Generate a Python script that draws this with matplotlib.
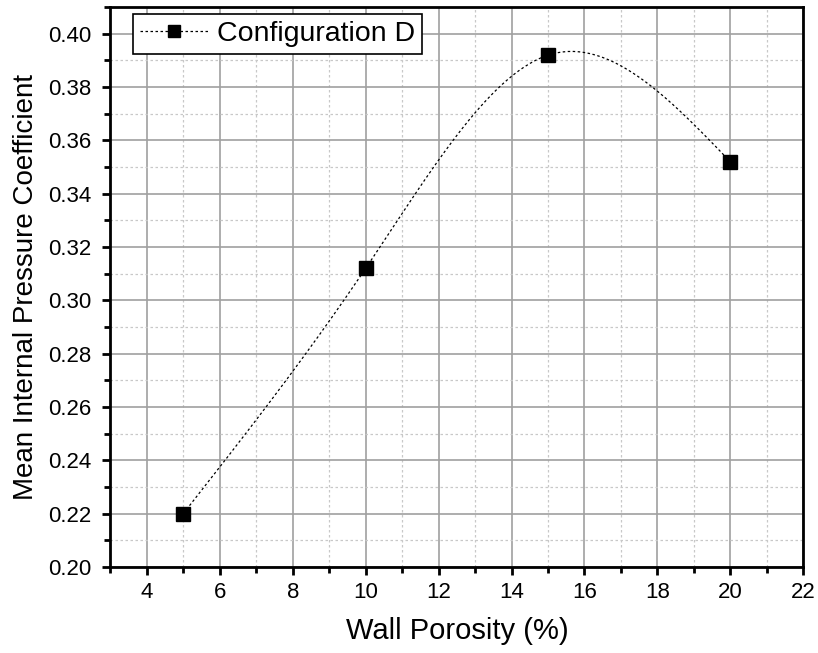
import numpy as np
import matplotlib
matplotlib.use('Agg')
import matplotlib.pyplot as plt
from matplotlib.ticker import MultipleLocator

plt.rcParams['font.family'] = ['Liberation Sans', 'DejaVu Sans']

porosity = [5, 10, 15, 20]
cp_mean = [0.220, 0.312, 0.392, 0.352]
series_label = 'Configuration D'


def natural_spline(x, y, n=200):
    # plain natural cubic spline, like Origin's "spline" connect
    x = np.asarray(x, float)
    y = np.asarray(y, float)
    k = len(x)
    h = np.diff(x)
    A = np.zeros((k, k))
    b = np.zeros(k)
    A[0, 0] = A[-1, -1] = 1
    for i in range(1, k - 1):
        A[i, i - 1] = h[i - 1]
        A[i, i] = 2 * (h[i - 1] + h[i])
        A[i, i + 1] = h[i]
        b[i] = 3 * ((y[i + 1] - y[i]) / h[i] - (y[i] - y[i - 1]) / h[i - 1])
    c = np.linalg.solve(A, b)
    xs = np.linspace(x[0], x[-1], n)
    ys = np.empty_like(xs)
    for j, xv in enumerate(xs):
        i = min(np.searchsorted(x, xv, side='right') - 1, k - 2)
        d = (c[i + 1] - c[i]) / (3 * h[i])
        bb = (y[i + 1] - y[i]) / h[i] - h[i] * (2 * c[i] + c[i + 1]) / 3
        t = xv - x[i]
        ys[j] = y[i] + bb * t + c[i] * t ** 2 + d * t ** 3
    return xs, ys


fig = plt.figure(figsize=(8.18, 6.53), dpi=100)
ax = fig.add_axes([0.135, 0.132, 0.847, 0.857])

xs, ys = natural_spline(porosity, cp_mean)
ax.plot(xs, ys, color='black', linestyle=(0, (2, 2)), linewidth=0.9, zorder=3)
ax.plot(porosity, cp_mean, linestyle='none', marker='s', markersize=10,
        color='black', zorder=4)
# legend proxy
ax.plot([], [], color='black', linestyle=(0, (2, 2)), linewidth=0.9,
        marker='s', markersize=8, label=series_label)

ax.set_xlim(3, 22)
ax.set_ylim(0.20, 0.41)
ax.xaxis.set_major_locator(MultipleLocator(2))
ax.xaxis.set_minor_locator(MultipleLocator(1))
ax.yaxis.set_major_locator(MultipleLocator(0.02))
ax.yaxis.set_minor_locator(MultipleLocator(0.01))
ax.yaxis.set_major_formatter(matplotlib.ticker.FormatStrFormatter('%.2f'))

ax.grid(which='major', color='#a0a0a0', linewidth=1.2, linestyle='-')
ax.grid(which='minor', color='#c8c8c8', linewidth=0.9, linestyle=(0, (2, 2)))
ax.set_axisbelow(True)

for s in ax.spines.values():
    s.set_linewidth(2)
ax.tick_params(which='major', direction='out', length=6, width=2,
               labelsize=16, top=False, right=False, pad=5)
ax.tick_params(axis='y', which='major', pad=8)
ax.tick_params(which='minor', direction='out', length=4, width=2,
               top=False, right=False)

ax.set_xlabel('Wall Porosity (%)', fontsize=21, labelpad=10)
ax.set_ylabel('Mean Internal Pressure Coefficient', fontsize=20, labelpad=6)

leg = ax.legend(loc='upper left', bbox_to_anchor=(0.032, 0.988),
                fontsize=20.5, frameon=True, fancybox=False,
                framealpha=1, edgecolor='black', handlelength=2.4,
                borderpad=0.25, handletextpad=0.3, borderaxespad=0)
leg.get_frame().set_linewidth(1.2)

fig.savefig('out.png', dpi=100)
